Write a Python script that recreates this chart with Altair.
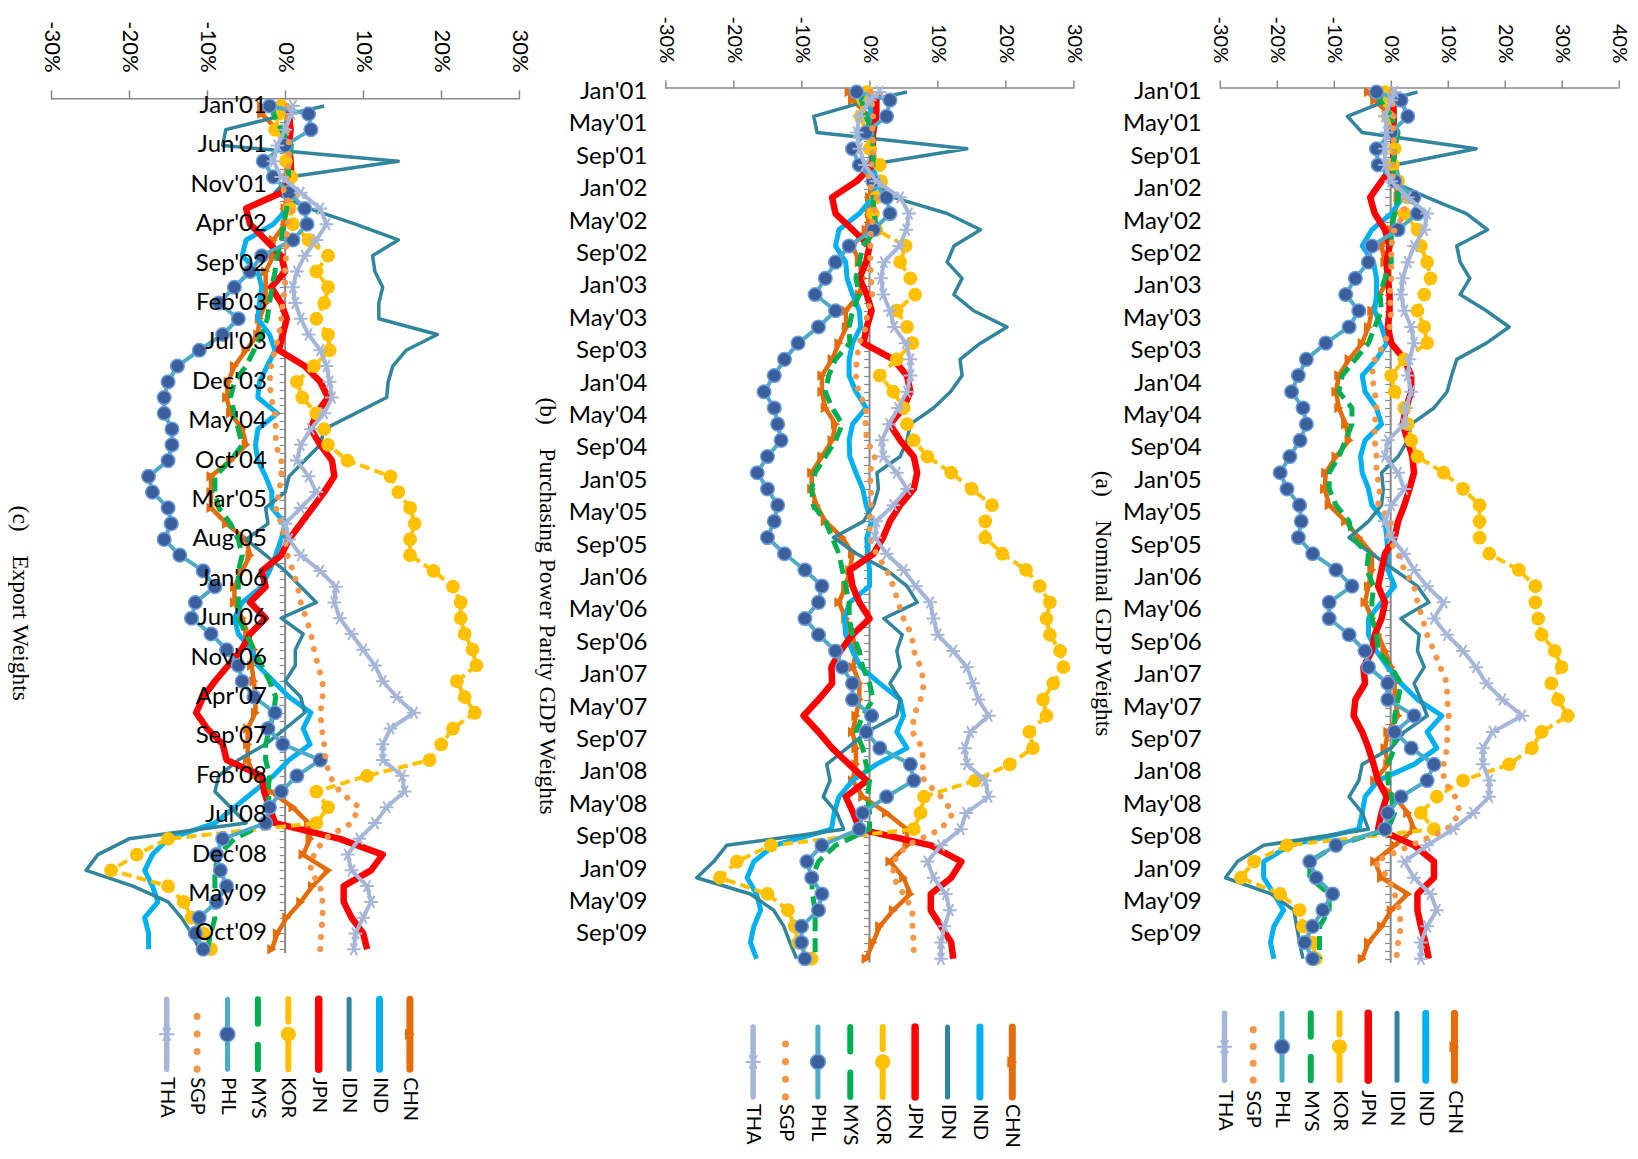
import altair as alt
import pandas as pd

# ---------------------------------------------------------------- data
# month index counted from Jan'01 (0) ; values read every other month
MONTHS = [0] + list(range(1, 108, 2))
SERIES = ["CHN", "IND", "IDN", "JPN", "KOR", "MYS", "PHL", "SGP", "THA"]
LEGEND_ORDER = ["THA", "SGP", "PHL", "MYS", "KOR", "JPN", "IDN", "IND", "CHN"]

DATE_LABELS_AB = ["Jan'01", "May'01", "Sep'01", "Jan'02", "May'02", "Sep'02", "Jan'03", "May'03", "Sep'03",
                  "Jan'04", "May'04", "Sep'04", "Jan'05", "May'05", "Sep'05", "Jan'06", "May'06", "Sep'06",
                  "Jan'07", "May'07", "Sep'07", "Jan'08", "May'08", "Sep'08", "Jan'09", "May'09", "Sep'09"]
DATE_LABELS_C = ["Jan'01", "Jun'01", "Nov'01", "Apr'02", "Sep'02", "Feb'03", "Jul'03", "Dec'03", "May'04",
                 "Oct'04", "Mar'05", "Aug'05", "Jan'06", "Jun'06", "Nov'06", "Apr'07", "Sep'07", "Feb'08",
                 "Jul'08", "Dec'08", "May'09", "Oct'09"]

# (a) Nominal GDP weights
A_CHN = [-3.9, -2.8, 0.1, 0.7, 0.7, 0.4, 0.7, 1.3, 0.7, 0.1, -1.6, -1, -0.5, -1.9, -3.3, -3.9, -5, -7.3, -9.1, -9.6,
         -9.1, -7.9, -7.3, -9.6, -11.4, -11.6, -10.8, -7.9, -5.6, -3.3, -3.3, -3.9, -4.5, -3.3, -2.2, -1, 0.1, 0.7, 0.7, 1.3,
         -0.5, -1, -0.5, -2.8, 0.7, 3, 4.1, 0.7, -2.8, -1.6, 3, 0.1, -1.6, -3.9, -5]
A_IND = [0.1, 0.1, 0.7, 0.4, 0.4, 0.7, 1.5, 2.1, 0.1, -3.3, -5, -3, -2.5, -2.5, -2.8, -1.6, -0.7, -2.5, -5, -4.5,
         -2.5, -1.6, -4.5, -5.3, -5, -3.9, -3.3, -1, -0.7, -0.5, -0.5, 0.7, -1.6, -3.9, -3.9, -2.5, -0.5, 1.8, 4.7, 9,
         6.4, 8.1, 4.1, -2.2, -4.5, -5, -5.6, -17.7, -22.3, -22.3, -20.5, -18.8, -20.5, -21.1, -20.5]
A_IDN = [4.7, -0.5, -7.6, -5, 15, 0.7, 0.1, 6.4, 13.3, 17, 11.6, 12.2, 13.9, 12.2, 16.8, 20.8, 16.8, 11.6, 10.7, 9.9,
         7.6, 3.6, 3, 1.3, -1.6, -1.3, -1.6, -3.9, -7.3, -3.3, 0.7, 4.7, 6.7, 1.8, 5, 4.7, 5.9, 4.1, 5.3, 6.4,
         2.4, 0.1, -5, -5.6, -7.3, -5, -3.9, -22.3, -26.9, -29, -21, -17, -16.5, -16, -15.4]
A_JPN = [0.7, 0.5, 0.5, 0.5, 0.5, 0.5, -1.6, -3.6, -2.8, -1, -0.2, -0.7, -0.5, -0.2, -0.2, -0.5, 0.1, 2.4, 3.6, 3.6,
         2.7, 2.1, 3, 3.8, 4.1, 3.3, 2.4, 1.3, 0.7, -1, -1.6, -2.2, -1, -1.6, -2.8, -3.3, -4.8, -4.5, -6.2, -6.5,
         -5, -3.9, -3, -2.2, -0.7, -1.6, -2.2, 4.1, 7.6, 7.6, 4.7, 4.7, 5.3, 6.1, 6.7]
A_KOR = [-1, -0.7, -0.5, 0.1, 0.7, 0.4, 1.3, 3, 2.4, 4.7, 5.3, 6.4, 7, 5.9, 4.7, 5.9, 6.4, 2.4, 0.1, 0.7,
         2.4, 3, 3.6, 4.7, 9.3, 12.7, 15.6, 15.6, 15.6, 17.3, 22.5, 25.4, 25.4, 25.9, 26.5, 28.8, 30, 28.2, 29.4, 31.1,
         26.5, 24.8, 20.8, 12.7, 8.1, 5.3, 7.6, -18.2, -24, -26.3, -19.4, -16, -15.4, -13.7, -13.1]
A_MYS = [-1.6, -1.9, 0.1, 1.3, 0.7, 0.4, 0.7, 1.3, 0.7, 0.1, 0.1, 0.1, -1, -1.9, -1.6, -2.8, -3.9, -6.2, -8.5, -9.1,
         -6.8, -6.8, -7.9, -9.1, -10.8, -10.8, -9.6, -7.3, -6.8, -3.9, -4.2, -3, -3.3, -3.3, -2.5, -2.2, 0.1, 1.8, 1.3, 0.7,
         0.7, 0.7, -0.5, -0.5, 0.1, 0.7, -0.5, -9.6, -14.2, -14.2, -10.8, -10.8, -12.5, -12.5, -12.5]
A_PHL = [-2.5, 1.8, 3, 0.1, -2.5, -2.2, 0.7, 4.1, 4.7, 1.3, -3.3, -3.9, -6.2, -7.9, -5.6, -7.3, -11.4, -14.8, -16.2, -17.4,
         -15.4, -14.8, -15.9, -17.7, -19.4, -18.2, -16, -15.7, -16.2, -13.7, -9.6, -6.8, -10.8, -10.8, -7.3, -4.5, -3.9, -0.5, -0.5, 4.1,
         0.7, 3.6, 7.6, 6.4, 1.8, -0.5, -1, -9.6, -14.2, -13.1, -10.2, -11.9, -13.7, -15.1, -13.7]
A_SGP = [0.1, 0.3, 0.5, 0.4, 0.6, 0.3, 0.4, 2.4, 2.4, 0.7, 0.1, 0.1, 0.1, -0.2, 0.1, -0.2, -1, -2.8, -3.3, -2.8,
         -2.5, -2.8, -2.8, -2.5, -2.5, -1.9, -2.2, 0.1, -0.5, 1.3, 2.4, 4.1, 4.7, 5.6, 6.4, 7.6, 8.7, 9.9, 9.9, 10.2,
         9.9, 9.9, 9.3, 9.3, 11.3, 12.2, 9.9, 3.6, -2.8, -0.5, 0.7, 1.5, 1.8, 1.3, 1]
A_THA = [0.7, 0.1, -1, -0.7, -1, -1, 0.1, 3, 6.4, 5.9, 4.1, 3, 2.1, 1.8, 2.4, 3.6, 4.1, 3.3, 3, 3.6,
         2.7, 2.4, -0.5, -1, 1.3, 2.4, 0.1, -1, 0.1, 2.4, 4.1, 6.4, 9.3, 7.6, 9.9, 12.7, 15, 16.8, 19.6, 23.1,
         17.9, 16.2, 16.2, 17.3, 17.3, 14.5, 11, 6.4, 2.4, 4.1, 7, 8.1, 6.4, 5.3, 5.3]

# (b) Purchasing power parity GDP weights
B_CHN = [-3, -2.5, 0, 0.5, 0.5, 0.4, 0.3, 0, 0, -0.5, -2.5, -1.5, -1, -1.5, -3.5, -3.4, -4.5, -5.5, -7, -7,
         -6.5, -5, -5.5, -7, -8.5, -8.5, -7.8, -6.5, -4, -2.5, -2.9, -3.5, -4.5, -3.5, -2.5, -2, -2.4, -1.5, -1.5, -2,
         -2.5, -2, -2, -2.5, -1, 2.5, 5.5, 5.5, 3, 5, 6, 3.5, 1.5, 0.5, -0.5]
B_IND = [0, 0, 0.3, 0, 0, 0.5, 1, 0.5, -1.5, -4.5, -5, -3.5, -3.3, -2.5, -1.5, -1.3, -2.5, -3, -3, -2,
         -0.5, -2.5, -3, -2.9, -2, -1, -0.5, 0.3, -0.4, -0.3, 0, 0, -2.9, -3.7, -3.5, -2.5, -1.3, 1.5, 4.5, 5,
         4, 5.5, 1, -2.5, -4.5, -5.2, -5.6, -14, -17, -18, -16.6, -16, -17, -17.5, -16.6]
B_IDN = [5.5, 0.1, -8.2, -7.7, 14.3, -0.4, 0.6, 3.5, 11.4, 16.3, 12.4, 11.4, 13.6, 12.4, 15.3, 20.2, 16.3, 13.3, 13.6, 11.9,
         9.4, 6, 5.5, 4.5, 1.1, 1.3, 0.6, -0.9, -5.3, -1.9, 2.5, 5.5, 7, 2.1, 4.8, 4, 4.5, 3, 4.5, 4,
         -0.4, -3.3, -6.3, -5.8, -6.8, -4.8, -3.8, -21, -22.9, -25.4, -17.5, -14.1, -12.6, -11.7, -10.7]
B_JPN = [1.5, 1, 1, 0.5, 0.5, 0.5, -1.9, -5.5, -5, -2.5, 0, -0.5, -1.5, -0.4, 0.3, -0.4, -0.9, 3.5, 5.5, 6,
         5, 3, 4.5, 6.5, 7, 6.5, 4.5, 3, 2, 0.6, -2.9, -2.5, -1.5, 0, -2.5, -4.3, -5.6, -5.5, -7.5, -9.7,
         -7.5, -5.5, -3, -0.4, -3.5, -2.4, -1.5, 9, 13.5, 12, 9, 9, 10.5, 12, 12.3]
B_KOR = [-0.4, -0.9, -1.3, -0.5, 0, 1.5, 1.7, 1, 0.5, 1, 5.3, 4.5, 6, 6.7, 4, 5.5, 6.3, 4, 1.5, 3.5,
         5, 5.5, 6.5, 8.5, 12, 15, 18, 17, 17, 19.5, 23, 25, 26.5, 26, 26.5, 28, 28.5, 27, 25.5, 26,
         23.5, 24, 20.6, 15.5, 8, 7.5, 6.5, -14.5, -19.5, -22, -15, -12, -11, -10.5, -8.5]
B_MYS = [-1, -1.2, -0.5, 0.4, 0.5, 0.5, 0.3, 0.5, 0.7, 1, -1, -1.5, -2, -1.5, -2.5, -3, -2.9, -5, -6, -6.5,
         -5.5, -4, -5, -6.5, -8, -8.5, -8.3, -6.5, -5.5, -4.5, -4, -3.5, -3, -3, -2.5, -1.5, -1, 0, 0.5, -1,
         -2, -1, -0.5, 0, -0.3, 0, 0, -5, -7.5, -8.5, -8.4, -8, -8, -8, -8]
B_PHL = [-1.9, 3, 2.5, -0.5, -2.5, -1.5, 0.5, 2.5, 3, 0.6, -3, -5, -6.5, -8, -5, -7.5, -10.5, -12.5, -14, -15.5,
         -14, -13.5, -13, -15, -16.5, -15, -13.5, -14, -15, -12.5, -9.5, -7, -7.5, -9.5, -7.5, -5, -4, -2.5, -2.5, 0.3,
         -0.5, 1.5, 6, 6.5, 2.5, -1, -1.5, -7, -9.2, -8.5, -7, -7.5, -10, -10, -9.5]
B_SGP = [0.2, 0.3, 0.5, 0.4, 0.6, 0.3, -0.3, 1, 0.6, 0.2, 0.1, 0.1, 0.2, 0.4, -0.3, -0.5, -1.5, -1.9, -2, -1.6,
         -0.5, -0.6, -0.4, 0.8, 0, 0.2, 0.2, 0, 0, 1, 2.5, 3.5, 4.2, 5, 6.2, 6.5, 7.5, 8, 7.5, 6.5,
         6.3, 7.8, 7.8, 8, 10.5, 12.3, 10.5, 5.5, 3.5, 3.5, 5, 6.3, 6.3, 6.5, 6.5]
B_THA = [1.5, 0, -1.5, -1.9, -1.5, -0.7, 1, 4.5, 5.8, 5.4, 4.4, 2.1, 1.7, 2, 3, 3.6, 5.3, 6, 6, 5.5,
         4.2, 2.9, 1.8, 2, 4, 5.5, 3.5, 1, 0.8, 2.5, 5, 6.8, 8.9, 9.4, 10, 12.3, 14.3, 15.2, 16, 17.5,
         14.8, 14, 14.3, 17, 17.5, 14.2, 13.4, 10.5, 8.5, 9.4, 11.2, 11.8, 11, 10.5, 10.5]

# (c) Export weights
C_CHN = [-3, -3, -1, 0, 0.2, 0.3, 0.2, 0, 0, -1.5, -1.5, -2.5, -2.5, -2.5, -3.3, -3.5, -5, -6.5, -7.3, -7.5,
         -7, -5.5, -5, -7, -9.5, -9.5, -9.5, -7.5, -5, -4.5, -5.5, -6.5, -6.5, -5.5, -4.8, -4, -4.3, -4, -3.8, -3.8,
         -4.8, -4.8, -4.8, -4, -1.8, 1, 3, 3.2, 2.3, 5.5, 3.5, 2, 0.2, -1, -1.7]
C_IND = [0.3, 0.3, 0.5, 0.3, 0.4, 0.6, 1, 0.3, -1.5, -5, -5.5, -3.5, -3, -3.3, -3.5, -2, -1.3, -2.3, -3.3, -3.5,
         -1, -3.5, -3.8, -3.5, -2.5, -1.7, -1.7, 0, -0.5, -1.2, -2, -3, -5.5, -6.5, -6, -4.3, -3.5, -1.5, 0.5, 3.3,
         2.3, 3.2, 0.5, -1.5, -4, -6.5, -9, -15, -17, -18, -17, -16.3, -18, -17.5, -17.5]
C_IDN = [5, 0.5, -7.6, -8, 14.5, 0.5, -1.3, 3, 9, 14.5, 11.2, 11.5, 12.5, 12, 12, 19.5, 15.5, 13.8, 13.2, 13,
         9, 5, 4.5, 2.5, 0.5, 0, -2.5, -2.2, -5, -2.5, 0, 2, 4, -0.5, 2.3, 1.3, 1.3, 0, 2, 2.5,
         0, -2.5, -6, -8.5, -9, -7, -5, -20, -24, -25.5, -19.5, -15, -13.3, -12, -11]
C_JPN = [0.5, 0.5, 0.7, 0.5, 0.7, 0.8, -0.5, -5, -4.5, -2.5, -0.5, 0, -1.8, -0.5, 0.2, -0.3, -0.8, 2.5, 4.5, 5.5,
         4, 3.3, 4.5, 6, 6.3, 5, 3.5, 2, 0.5, -0.5, -3, -2.5, -4.5, -2.5, -4.5, -5.6, -7.3, -9, -10.5, -11.4,
         -10, -8, -7.5, -3, -2.7, -2, -1.3, 7, 12.5, 11, 7.5, 7.5, 8.5, 10, 10.5]
C_KOR = [-0.5, -0.8, -1.3, 0, 0.1, 0.8, 1, 0.6, 1, 3, 5.5, 4, 5.5, 5, 4, 5.5, 5.7, 3.7, 1.5, 2.2,
         4, 5, 5.5, 8, 13.5, 14.5, 16, 16.6, 16, 16, 19, 21.5, 22.5, 22.5, 23, 24, 24.5, 22, 23, 24.3,
         21.5, 20, 18.5, 10.5, 4, 5.5, 4, -15, -19, -22.3, -15, -13, -12, -10.5, -9.5]
C_MYS = [-1.5, -1.5, -0.5, 0.8, 0.5, 0.4, 0.3, 0.2, -0.2, -0.5, -1, -1.3, -1.7, -2, -2.3, -3, -4, -5, -6.5, -7,
         -6.5, -6, -5.5, -7, -9, -9, -8.5, -7, -6, -5.5, -6, -6, -6, -6, -5, -4, -3, -2, -1.2, -1.5,
         -2, -2.5, -2.5, -2, -2.2, -2, -2.5, -6.5, -8.5, -9, -9, -9, -9, -9.5, -10]
C_PHL = [-2, 3, 3.3, 0, -2.8, -1.5, 0.5, 2.5, 2.8, 1, -3, -4.5, -6.5, -8.5, -6, -8, -11, -13.8, -15, -15.5,
         -15.5, -14.5, -14.5, -15, -17.5, -17, -15, -14.6, -15.5, -13.5, -10.5, -9, -11.5, -12, -9.5, -7.5, -6, -5.5, -4, -1.3,
         -2.2, -0.3, 4.5, 1.5, -0.5, -2, -2.5, -8, -8.8, -8.3, -7.5, -8.8, -11, -11.5, -10.5]
C_SGP = [0.3, 0.4, 0.3, 0.5, 0.5, 0.3, -0.3, 1, 0.3, 0.2, 0.1, 0, 0, -0.3, -0.5, -0.8, -1.3, -1.8, -2, -1.8,
         -1.3, -1.2, -1.2, -0.5, -0.5, -0.8, -1.2, -0.5, 0, 0.3, 1, 1.6, 2, 2.7, 3.3, 3.7, 4.2, 4.8, 4.8, 4.5,
         4.7, 5, 5.2, 5.7, 7, 9.5, 8.5, 5, 3.7, 3.2, 4.5, 4.8, 4.8, 4.6, 4.5]
C_THA = [1, 0.8, 0, -1, -1.5, -0.5, 2, 4.5, 5.3, 4, 2.5, 1.5, 1, 1.3, 2, 3, 4.5, 5.3, 5.7, 6,
         5, 3.3, 2, 1.5, 3, 4, 2, 0, 0.5, 2, 4.5, 6.5, 6.3, 7, 8.5, 10, 11.5, 12.5, 14.3, 16.5,
         13.5, 12.5, 12.5, 15, 15.3, 13, 11.5, 9.5, 8, 8.5, 10.5, 11, 10, 9, 8.8]

PANEL_A = {"CHN": A_CHN, "IND": A_IND, "IDN": A_IDN, "JPN": A_JPN, "KOR": A_KOR,
           "MYS": A_MYS, "PHL": A_PHL, "SGP": A_SGP, "THA": A_THA}
PANEL_B = {"CHN": B_CHN, "IND": B_IND, "IDN": B_IDN, "JPN": B_JPN, "KOR": B_KOR,
           "MYS": B_MYS, "PHL": B_PHL, "SGP": B_SGP, "THA": B_THA}
PANEL_C = {"CHN": C_CHN, "IND": C_IND, "IDN": C_IDN, "JPN": C_JPN, "KOR": C_KOR,
           "MYS": C_MYS, "PHL": C_PHL, "SGP": C_SGP, "THA": C_THA}

CAPTION_A = "(a)\u00a0\u00a0\u00a0\u00a0Nominal GDP Weights"
CAPTION_B = "(b)\u00a0\u00a0\u00a0\u00a0Purchasing Power Parity GDP Weights"
CAPTION_C = "(c)\u00a0\u00a0\u00a0\u00a0Export Weights"

# ---------------------------------------------------------------- styles
GRAY = "#898989"
ASTERISK = "M-1,0L1,0M-0.5,-0.866L0.5,0.866M-0.5,0.866L0.5,-0.866"
STYLE = {
    "CHN": dict(color="#E46C0A", width=4.5, marker="triangle-right", msize=110, fill="#E46C0A"),
    "IND": dict(color="#00B0F0", width=5),
    "IDN": dict(color="#31859C", width=3.5),
    "JPN": dict(color="#FF0000", width=6.5),
    "KOR": dict(color="#FFC000", width=4, dash=[10, 5], marker="circle", msize=190, fill="#FFC000"),
    "MYS": dict(color="#00B050", width=5, dash=[14, 7]),
    "PHL": dict(color="#4BACC6", width=4, marker="circle", msize=185, fill="#3A5F9A", stroke="#6A9AE0"),
    "SGP": dict(color="#F79646", width=6, dash=[0.1, 12], cap="round"),
    "THA": dict(color="#A6B6D8", width=4, marker=ASTERISK, msize=190, hollow=True),
}


def long_frame(values):
    rows = []
    for s in SERIES:
        for m, v in zip(MONTHS, values[s]):
            rows.append({"series": s, "m": m, "v": v})
    return pd.DataFrame(rows)


def point_layer(sub, st, size, X, Y):
    if st.get("hollow"):
        mk = alt.Chart(sub).mark_point(shape=st["marker"], filled=False, size=size, stroke=st["color"],
                                       strokeWidth=2, opacity=1)
    else:
        kw = dict(shape=st["marker"], filled=True, size=size, fill=st["fill"], opacity=1)
        if "stroke" in st:
            kw.update(stroke=st["stroke"], strokeWidth=1.5)
        else:
            kw.update(strokeWidth=0)
        mk = alt.Chart(sub).mark_point(**kw)
    return mk.encode(x=X, y=Y)


def make_panel(values, xdom, xticks, ppp, ppm, m0_px, axis_px, tick_size, lab_size, lab_pad,
               labels, label_step, label_x, label_dx, caption, cap_x, cap_y):
    width = (xdom[1] - xdom[0]) * ppp
    ymin = -(m0_px) / ppm
    ymax = 107.5
    height = (ymax - ymin) * ppm
    zero_px = (0 - xdom[0]) * ppp
    xs = alt.Scale(domain=xdom, nice=False, zero=False)
    ys = alt.Scale(domain=[ymin, ymax], reverse=True, nice=False, zero=False)
    xaxis = alt.Axis(orient="top", values=xticks,
                     labelExpr="datum.value + '%'", labelAngle=90, labelAlign="right",
                     labelBaseline="middle", labelFont="Lato", labelFontSize=lab_size, labelColor="#000000",
                     labelPadding=lab_pad, tickSize=tick_size, tickColor=GRAY, tickWidth=1.5,
                     domain=False, grid=False, title=None, offset=-axis_px, labelOverlap=False)
    yaxis = alt.Axis(orient="left", offset=-zero_px, values=list(range(108)), labels=False,
                     domain=False, tickSize=6, tickColor=GRAY, tickWidth=1.2, grid=False, title=None)
    X = alt.X("v:Q", scale=xs, axis=xaxis)
    Y = alt.Y("m:Q", scale=ys, axis=yaxis)

    df = long_frame(values)
    layers = []
    # value-axis line
    ax_df = pd.DataFrame({"v": [xticks[0]], "v2": [xticks[-1]]})
    layers.append(alt.Chart(ax_df).mark_rule(color=GRAY, strokeWidth=1.5)
                  .encode(x=X, x2="v2:Q", y=alt.value(axis_px)))
    # category axis line at 0 %
    zero_df = pd.DataFrame({"v": [0], "m": [-0.5], "m2": [107.5]})
    layers.append(alt.Chart(zero_df).mark_rule(color=GRAY, strokeWidth=2).encode(x=X, y=Y, y2="m2:Q"))
    for s in SERIES:
        st = STYLE[s]
        sub = df[df.series == s]
        kw = dict(color=st["color"], strokeWidth=st["width"], strokeJoin="round")
        if "dash" in st:
            kw["strokeDash"] = st["dash"]
        if "cap" in st:
            kw["strokeCap"] = st["cap"]
        layers.append(alt.Chart(sub).mark_line(**kw).encode(x=X, y=Y, order=alt.Order("m:Q")))
        if "marker" in st:
            layers.append(point_layer(sub, st, st["msize"], X, Y))
    lab_df = pd.DataFrame({"m": [i * label_step for i in range(len(labels))], "label": labels,
                           "v": [label_x] * len(labels)})
    layers.append(alt.Chart(lab_df).mark_text(align="right", baseline="middle", dx=label_dx, font="Lato",
                                              fontSize=24, color="#000000")
                  .encode(x=X, y=Y, text="label:N"))
    cap_df = pd.DataFrame({"t": [caption]})
    layers.append(alt.Chart(cap_df).mark_text(angle=90, align="center", baseline="middle",
                                              font="Liberation Serif", fontSize=23.5, color="#000000")
                  .encode(x=alt.value(cap_x), y=alt.value(cap_y), text="t:N"))
    return alt.layer(*layers).properties(width=width, height=height)


def make_legend(width, length, top_gap, x0, step, label_dx):
    a = -x0 / step
    b = a + width / step
    ls = alt.Scale(domain=[a, b], nice=False, zero=False)
    ys = alt.Scale(domain=[0, 1 + top_gap / length], nice=False, zero=False)
    df = pd.DataFrame({"series": LEGEND_ORDER, "i": list(range(len(LEGEND_ORDER))),
                       "top": [1] * 9, "bot": [0] * 9, "mid": [0.5] * 9})
    X = alt.X("i:Q", scale=ls, axis=None)
    leg_dash = {"SGP": [0.1, length / 4], "MYS": [length * 0.35, length * 0.3],
                "KOR": [length * 0.38, length * 0.3]}
    leg_width = {"CHN": 7, "IND": 7, "IDN": 5, "JPN": 7.5, "KOR": 6, "MYS": 6, "PHL": 5, "SGP": 7, "THA": 5.5}
    layers = []
    for s in LEGEND_ORDER:
        st = STYLE[s]
        sub = df[df.series == s]
        kw = dict(color=st["color"], strokeWidth=leg_width[s], strokeCap="round")
        if s in leg_dash:
            kw["strokeDash"] = leg_dash[s]
        layers.append(alt.Chart(sub).mark_rule(**kw).encode(
            x=X, y=alt.Y("bot:Q", scale=ys, axis=None), y2="top:Q"))
        if "marker" in st:
            layers.append(point_layer(sub, st, st["msize"] * 1.2, X, alt.Y("mid:Q", scale=ys, axis=None)))
    layers.append(alt.Chart(df).mark_text(angle=90, align="left", baseline="middle", dx=label_dx,
                                          font="Lato", fontSize=20, color="#000000")
                  .encode(x=X, y=alt.Y("bot:Q", scale=ys, axis=None), text="series:N"))
    return alt.layer(*layers).properties(width=width, height=length + top_gap)


TICKS_A = [-30, -20, -10, 0, 10, 20, 30, 40]
TICKS_BC = [-30, -20, -10, 0, 10, 20, 30]

PPP_A, PPP_B, PPP_C = 5.696, 6.805, 7.805
COL_GAP = 145.4

plot_a = make_panel(PANEL_A, [-30, 40], TICKS_A, PPP_A, 8.1, 4.05, 0, 8, 20, 17.3,
                    DATE_LABELS_AB, 4, -30, -18, CAPTION_A, -116.6, 515.5)
plot_b = make_panel(PANEL_B, [-30, 30], TICKS_BC, PPP_B, 8.1, 4.05, 0, 8, 20, 17.3,
                    DATE_LABELS_AB, 4, -30, -18, CAPTION_B, -118.7, 518)
plot_c = make_panel(PANEL_C, [-30, 30], TICKS_BC, PPP_C, 7.88, 18, 10.8, 9, 22, 17.6,
                    DATE_LABELS_C, 5, 0, -18.2, CAPTION_C, -31.25, 515.3)

leg_c = make_legend(60 * PPP_C, 70, 0, 115.7, 30.4, 8)
leg_b = make_legend(60 * PPP_B, 70, 27.7, 87.7, 32.4, 7)
leg_a = make_legend(70 * PPP_A, 67, 14, 4.7, 28.75, 10)

chart = (alt.concat(plot_c, plot_b, plot_a, leg_c, leg_b, leg_a, columns=3,
                    spacing={"row": 36.2, "column": COL_GAP}, bounds="flush", align="each")
         .properties(padding={"left": 0, "top": 8, "right": 0, "bottom": 0}, background="white")
         .configure_view(stroke=None))

chart.save("out.html", embed_options={"renderer": "svg", "actions": False})
